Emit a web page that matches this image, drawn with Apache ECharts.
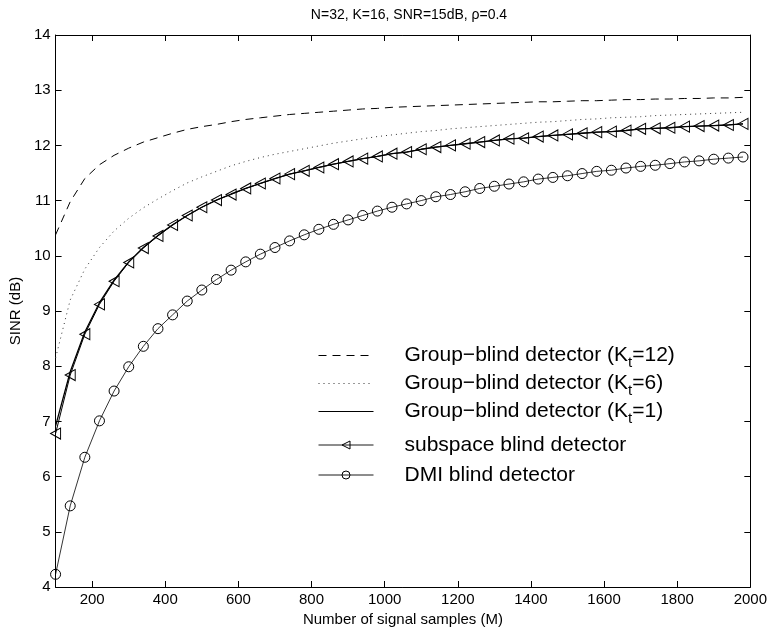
<!DOCTYPE html>
<html>
<head>
<meta charset="utf-8">
<title>SINR vs number of signal samples</title>
<script src="https://cdn.jsdelivr.net/npm/echarts@6/dist/echarts.min.js"></script>
<style>
  html, body { margin: 0; padding: 0; background: #fff; }
  #chart { width: 770px; height: 633px; }
</style>
</head>
<body>
<div id="chart"></div>
<script>
// Number of signal samples M
const samples = [100, 140, 180, 220, 260, 300, 340, 380, 420, 460, 500, 540, 580, 620, 660, 700,
  740, 780, 820, 860, 900, 940, 980, 1020, 1060, 1100, 1140, 1180, 1220, 1260, 1300, 1340,
  1380, 1420, 1460, 1500, 1540, 1580, 1620, 1660, 1700, 1740, 1780, 1820, 1860, 1900, 1940, 1980];

// SINR (dB) for each detector
const groupK12 = [10.38, 10.98, 11.40, 11.65, 11.82, 11.95, 12.06, 12.14, 12.22, 12.29, 12.34, 12.38,
  12.43, 12.47, 12.50, 12.53, 12.56, 12.58, 12.60, 12.62, 12.64, 12.66, 12.67, 12.69, 12.70, 12.71,
  12.72, 12.73, 12.74, 12.75, 12.76, 12.77, 12.78, 12.79, 12.79, 12.80, 12.81, 12.81, 12.82, 12.83,
  12.83, 12.84, 12.84, 12.85, 12.85, 12.86, 12.86, 12.87];

const groupK6 = [8.15, 9.20, 9.76, 10.15, 10.45, 10.68, 10.87, 11.03, 11.18, 11.32, 11.43, 11.53,
  11.63, 11.71, 11.78, 11.84, 11.89, 11.94, 11.99, 12.04, 12.08, 12.12, 12.16, 12.19, 12.22, 12.25,
  12.27, 12.30, 12.32, 12.34, 12.36, 12.38, 12.40, 12.42, 12.43, 12.45, 12.47, 12.48, 12.50, 12.51,
  12.52, 12.54, 12.55, 12.56, 12.57, 12.58, 12.59, 12.60];

const groupK1 = [6.92, 7.90, 8.62, 9.15, 9.56, 9.89, 10.15, 10.37, 10.56, 10.73, 10.88, 11.01,
  11.12, 11.22, 11.31, 11.40, 11.48, 11.54, 11.60, 11.66, 11.71, 11.76, 11.80, 11.85, 11.88, 11.93,
  11.97, 12.00, 12.03, 12.06, 12.09, 12.12, 12.13, 12.16, 12.18, 12.20, 12.22, 12.24, 12.25, 12.27,
  12.30, 12.31, 12.32, 12.34, 12.35, 12.36, 12.37, 12.39];

const subspace = [6.78, 7.84, 8.58, 9.12, 9.54, 9.88, 10.14, 10.36, 10.56, 10.73, 10.88, 11.01,
  11.11, 11.22, 11.31, 11.40, 11.48, 11.54, 11.60, 11.66, 11.71, 11.76, 11.80, 11.85, 11.88, 11.93,
  11.97, 12.00, 12.03, 12.06, 12.09, 12.12, 12.13, 12.16, 12.18, 12.20, 12.22, 12.24, 12.25, 12.27,
  12.30, 12.31, 12.32, 12.34, 12.35, 12.36, 12.37, 12.39];

const dmi = [4.23, 5.47, 6.35, 7.01, 7.55, 7.99, 8.36, 8.68, 8.93, 9.18, 9.38, 9.57,
  9.74, 9.89, 10.03, 10.15, 10.27, 10.38, 10.48, 10.57, 10.65, 10.73, 10.81, 10.88, 10.94, 11.00,
  11.07, 11.11, 11.16, 11.22, 11.26, 11.30, 11.34, 11.39, 11.42, 11.45, 11.49, 11.53, 11.55, 11.59,
  11.62, 11.64, 11.67, 11.70, 11.72, 11.75, 11.77, 11.79];

// Axis tick values
const xTicks = [200, 400, 600, 800, 1000, 1200, 1400, 1600, 1800, 2000];

const seriesNames = [
  'Group\u2212blind detector (Kt=12)',
  'Group\u2212blind detector (Kt=6)',
  'Group\u2212blind detector (Kt=1)',
  'subspace blind detector',
  'DMI blind detector'
];

const pairs = vals => samples.map((m, i) => [m, vals[i]]);

const FONT = '"Liberation Sans", Arial, Helvetica, sans-serif';
const leftTriangle = 'path://M0,5 L10,0 L10,10 Z';

const chart = echarts.init(document.getElementById('chart'), null, { renderer: 'canvas' });

const axisCommon = {
  axisLine: { show: true, lineStyle: { color: '#000', width: 1 } },
  splitLine: { show: false }
};

// legend entries: plain-line entries hide the marker, keep a thin line
const noMarker = { color: 'rgba(0,0,0,0)', borderWidth: 0, opacity: 0 };
const hollowMarker = { color: 'rgba(0,0,0,0)', borderColor: '#000', borderWidth: 1 };
const legendData = [
  { name: seriesNames[0], itemStyle: noMarker, lineStyle: { width: 1, color: '#000', type: [8, 6] } },
  { name: seriesNames[1], itemStyle: noMarker, lineStyle: { width: 1, color: '#333', type: [1, 4] } },
  { name: seriesNames[2], itemStyle: noMarker, lineStyle: { width: 1, color: '#000', type: 'solid' } },
  { name: seriesNames[3], itemStyle: hollowMarker, lineStyle: { width: 0.9, color: '#000' },
    textStyle: { lineHeight: 32 } },
  { name: seriesNames[4], itemStyle: hollowMarker, lineStyle: { width: 0.9, color: '#000' },
    textStyle: { lineHeight: 22 } }
];

chart.setOption({
  animation: false,
  backgroundColor: '#fff',
  title: {
    text: 'N=32, K=16, SNR=15dB, \u03c1=0.4',
    left: 404,
    textAlign: 'center',
    top: 3,
    textStyle: { fontFamily: FONT, fontSize: 14, fontWeight: 'normal', color: '#000' }
  },
  grid: { left: 53, right: 18, top: 35, bottom: 46 },
  xAxis: [
    Object.assign({
      type: 'value', min: 100, max: 2000, position: 'bottom',
      name: 'Number of signal samples (M)',
      nameLocation: 'middle', nameGap: 22,
      nameTextStyle: { fontFamily: FONT, fontSize: 15, color: '#000' },
      axisTick: { show: true, inside: true, length: 6, customValues: xTicks, lineStyle: { color: '#000' } },
      axisLabel: { customValues: xTicks, formatter: v => String(v), fontFamily: FONT, fontSize: 15, color: '#000', margin: 5 }
    }, axisCommon),
    Object.assign({
      type: 'value', min: 100, max: 2000, position: 'top',
      axisTick: { show: true, inside: true, length: 6, customValues: xTicks, lineStyle: { color: '#000' } },
      axisLabel: { show: false }
    }, axisCommon)
  ],
  yAxis: [
    Object.assign({
      type: 'value', min: 4, max: 14, interval: 1, position: 'left',
      name: 'SINR (dB)', nameLocation: 'middle', nameGap: 24, nameRotate: 90,
      nameTextStyle: { fontFamily: FONT, fontSize: 15, color: '#000' },
      axisTick: { show: true, inside: true, length: 6, lineStyle: { color: '#000' } },
      axisLabel: { fontFamily: FONT, fontSize: 15, color: '#000', margin: 5 }
    }, axisCommon),
    Object.assign({
      type: 'value', min: 4, max: 14, interval: 1, position: 'right',
      axisTick: { show: true, inside: true, length: 6, lineStyle: { color: '#000' } },
      axisLabel: { show: false }
    }, axisCommon)
  ],
  legend: {
    orient: 'vertical',
    left: 313,
    top: 340,
    itemWidth: 55,
    itemHeight: 10,
    itemGap: 3,
    selectedMode: false,
    data: legendData,
    formatter: name => name.replace(/\(Kt=(\d+)\)/, '(K{s|t}=$1)'),
    textStyle: {
      fontFamily: FONT, fontSize: 21, color: '#000', padding: [0, 0, 0, 26],
      rich: {
        s: { fontFamily: FONT, fontSize: 15, color: '#000', verticalAlign: 'bottom', padding: [14, 0, 0, 0] }
      }
    }
  },
  series: [
    {
      name: seriesNames[0], type: 'line', data: pairs(groupK12),
      symbol: 'none',
      lineStyle: { color: '#000', width: 1, type: [8, 6] },
      itemStyle: { color: '#000' }
    },
    {
      name: seriesNames[1], type: 'line', data: pairs(groupK6),
      symbol: 'none',
      lineStyle: { color: '#333', width: 1, type: [1, 4] },
      itemStyle: { color: '#333' }
    },
    {
      name: seriesNames[2], type: 'line', data: pairs(groupK1),
      symbol: 'none',
      lineStyle: { color: '#000', width: 1.3 },
      itemStyle: { color: '#000' }
    },
    {
      name: seriesNames[3], type: 'line', data: pairs(subspace),
      symbol: leftTriangle, symbolSize: [10, 11], showAllSymbol: true,
      lineStyle: { color: '#000', width: 1 },
      itemStyle: { color: 'rgba(0,0,0,0)', borderColor: '#000', borderWidth: 1 }
    },
    {
      name: seriesNames[4], type: 'line', data: pairs(dmi),
      symbol: 'circle', symbolSize: 10, showAllSymbol: true,
      lineStyle: { color: '#000', width: 0.8 },
      itemStyle: { color: 'rgba(0,0,0,0)', borderColor: '#000', borderWidth: 1 }
    }
  ]
});
</script>
</body>
</html>
